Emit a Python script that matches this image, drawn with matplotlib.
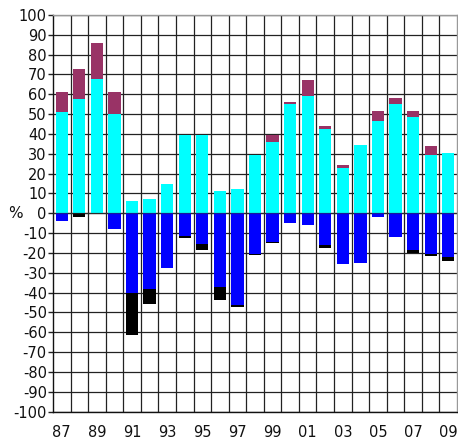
import matplotlib
matplotlib.use("Agg")
import matplotlib.pyplot as plt
import numpy as np

years = ["87", "88", "89", "90", "91", "92", "93", "94", "95", "96", "97", "98",
         "99", "00", "01", "02", "03", "04", "05", "06", "07", "08", "09"]
pos_base = [51, 57.5, 67.6, 50, 6, 7, 15, 39.3, 39.3, 11, 12, 29.3,
            36, 55, 59, 42.3, 22.6, 34.2, 46.4, 55, 48.4, 29.2, 30.2]
pos_top = [10, 15.2, 18.4, 11, 0, 0, 0, 0, 0, 0, 0, 0,
           3.4, 1, 8.1, 1.5, 1.5, 0, 5, 3, 3, 4.5, 0]
neg_base = [-3.7, 0, 0, -7.8, -40, -38, -27.5, -11.6, -15.3, -37, -46.2, -20.6,
            -14.5, -4.7, -5.7, -15.9, -25.8, -25.3, -2, -12.1, -18.5, -20.6, -22]
neg_bottom = [0, -2, 0, 0, -21.3, -8, 0, -0.7, -3, -7, -1, -0.7,
              -0.7, 0, 0, -1.5, 0, 0, 0, 0, -1.4, -1.2, -2]

plt.rcParams['font.family'] = ['DejaVu Sans']

fig = plt.figure(figsize=(4.58, 4.41), dpi=100)
ax = fig.add_axes([53/458, 1-411.5/441, 404/458, (411.5-15)/441])

x = np.arange(len(years))
w = 0.7
ax.bar(x, pos_base, w, color='#00FFFF', zorder=2)
ax.bar(x, pos_top, w, bottom=pos_base, color='#993366', zorder=2)
ax.bar(x, neg_base, w, color='#0000FF', zorder=2)
ax.bar(x, neg_bottom, w, bottom=neg_base, color='#000000', zorder=2)

ax.set_xlim(-0.5, len(years) - 0.5)
ax.set_ylim(-100, 100)

# grid
for yv in range(-100, 101, 10):
    ax.axhline(yv, color='#222222', lw=0.9, zorder=1)
for xv in np.arange(0.5, len(years) - 0.5, 1):
    ax.axvline(xv, color='#222222', lw=0.9, zorder=1)
ax.axhline(0, color='#333333', lw=1.0, alpha=0.5, zorder=3)

ax.set_yticks(range(-100, 101, 10))
ax.set_yticklabels([str(v) for v in range(-100, 101, 10)], fontsize=10.5, color='#111111')
ax.set_xticks(x[::2])
ax.set_xticklabels(years[::2], fontsize=10.5, color='#111111')
ax.tick_params(axis='x', length=0, pad=10)
ax.tick_params(axis='y', length=3.5, width=1, color='#222222', pad=1)

for s in ['left', 'bottom']:
    ax.spines[s].set_color('#111111')
    ax.spines[s].set_linewidth(1.0)
for s in ['top', 'right']:
    ax.spines[s].set_color('#999999')
    ax.spines[s].set_linewidth(1.0)

fig.text(15/458, 1-213/441, '%', fontsize=11, ha='center', va='center', color='#111111')

fig.savefig('out.png', dpi=100)
